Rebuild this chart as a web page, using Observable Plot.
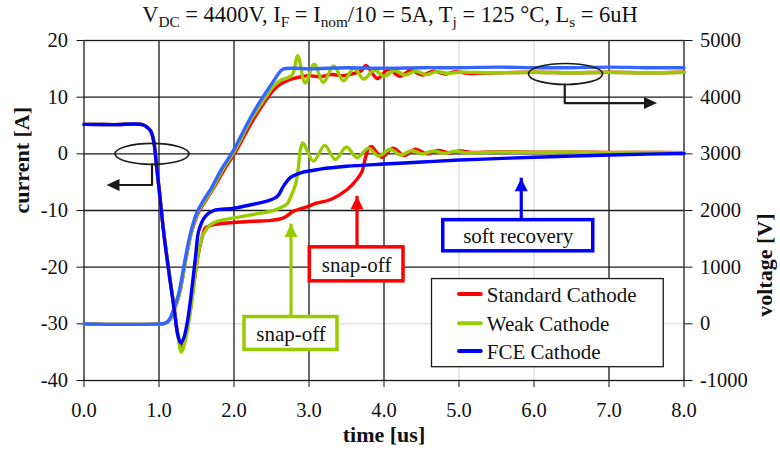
<!DOCTYPE html>
<html>
<head>
<meta charset="utf-8">
<script src="https://cdn.jsdelivr.net/npm/d3@7"></script>
<script src="https://cdn.jsdelivr.net/npm/@observablehq/plot@0.6"></script>
<style>
  body { margin: 0; background: #fff; }
  #title { width: 780px; height: 30px; line-height: 30px; text-align: center;
           font-family: "Liberation Serif", serif; font-size: 22.5px; color: #111; white-space: nowrap; }
  #title sub { font-size: 0.68em; vertical-align: -0.3em; line-height: 0; }
</style>
</head>
<body>
<div id="title">V<sub>DC</sub> = 4400V, I<sub>F</sub> = I<sub>nom</sub>/10 = 5A, T<sub>j</sub> = 125 °C, L<sub>s</sub> = 6uH</div>
<div id="chart"></div>
<script>
// ---------- axes / categories ----------
const timeTicks = [0, 1, 2, 3, 4, 5, 6, 7, 8];
const currentTicks = [-40, -30, -20, -10, 0, 10, 20];
const voltageTicks = [-1000, 0, 1000, 2000, 3000, 4000, 5000];
const gridTimeDark = [1, 2, 3, 4, 7];
const gridTimeLight = [5, 6];
const gridCurrentDark = [-20, -10, 0, 10];
const gridCurrentLight = [-30];
const seriesNames = ["Standard Cathode", "Weak Cathode", "FCE Cathode"];
const currentColors = ["#ff0000", "#99cc00", "#0000ff"];
const voltageColors = ["#ff0000", "#99cc00", "#3366ff"];

// ---------- current traces [A] ----------
const tI_std = [0, 0.4, 0.78, 0.85, 0.89, 0.93, 0.97, 1.0, 1.06, 1.13, 1.2, 1.25, 1.29, 1.34, 1.40, 1.46, 1.52, 1.58, 1.62, 1.73, 1.91, 2.26, 2.49, 2.66, 2.8, 2.98, 3.1, 3.29, 3.51, 3.64, 3.71, 3.75, 3.79, 3.83, 3.97, 4.12, 4.27, 4.42, 4.57, 4.72, 4.87, 5.02, 5.17, 5.5, 6.0, 6.5, 7.0, 7.5, 8.0];
const I_std  = [5.2, 5.15, 5.15, 4.6, 4.0, 2.2, -2.5, -6, -13.5, -20.6, -27, -31.8, -34, -32.5, -29, -23.5, -18, -14.5, -13.05, -12.5, -12.2, -11.9, -11.75, -11.3, -10.1, -9.3, -8.7, -8.05, -6.3, -4.5, -3.0, -0.8, 0.8, 1.3, -0.6, 1.0, -0.3, 0.8, 0.0, 0.6, 0.15, 0.5, 0.25, 0.35, 0.3, 0.3, 0.25, 0.25, 0.2];

const tI_weak = [0, 0.4, 0.78, 0.85, 0.89, 0.93, 0.97, 1.0, 1.06, 1.13, 1.2, 1.25, 1.3, 1.35, 1.40, 1.46, 1.52, 1.58, 1.69, 1.82, 2.0, 2.26, 2.53, 2.62, 2.71, 2.75, 2.82, 2.85, 2.89, 2.92, 3.06, 3.21, 3.35, 3.50, 3.64, 3.79, 3.93, 4.08, 4.22, 4.37, 4.51, 4.66, 4.80, 4.95, 5.09, 5.5, 6.0, 6.5, 7.0, 7.5, 8.0];
const I_weak  = [5.2, 5.15, 5.15, 4.6, 4.0, 2.2, -2.5, -6, -13.4, -20.5, -27, -32, -35, -33, -29.5, -23.6, -17.8, -14.5, -12.5, -11.75, -11.3, -10.7, -10.0, -9.5, -8.8, -7.8, -5.4, -3.3, 1.0, 1.9, -1.3, 1.5, -1.0, 1.2, -0.7, 1.0, -0.4, 0.8, -0.2, 0.6, 0.0, 0.5, 0.1, 0.45, 0.2, 0.3, 0.25, 0.3, 0.2, 0.25, 0.2];

const tI_fce = [0, 0.4, 0.78, 0.85, 0.89, 0.93, 0.97, 1.0, 1.06, 1.13, 1.2, 1.25, 1.29, 1.33, 1.38, 1.44, 1.49, 1.53, 1.62, 1.73, 2.0, 2.26, 2.44, 2.58, 2.66, 2.75, 2.89, 3.15, 3.5, 4.0, 4.5, 5.0, 5.5, 6.0, 6.5, 7.0, 7.5, 8.0];
const I_fce  = [5.2, 5.15, 5.15, 4.6, 4.0, 2.2, -2.5, -6, -13.6, -20.7, -27.2, -31.9, -33.4, -32.5, -29.5, -23.6, -17.8, -13.6, -11.0, -10.0, -9.6, -8.9, -8.35, -7.5, -5.7, -4.2, -3.35, -2.7, -2.2, -1.8, -1.45, -1.1, -0.85, -0.6, -0.4, -0.2, -0.05, 0.05];

// ---------- voltage traces [V] ----------
const tV_std = [0, 0.5, 1.0, 1.08, 1.14, 1.19, 1.27, 1.36, 1.43, 1.52, 1.61, 1.73, 1.86, 2.04, 2.22, 2.38, 2.53, 2.62, 2.71, 2.8, 2.9, 3.0, 3.15, 3.3, 3.45, 3.6, 3.7, 3.76, 3.91, 4.06, 4.21, 4.36, 4.51, 4.66, 4.81, 4.96, 5.11, 5.5, 6.0, 6.5, 7.0, 7.5, 8.0];
const V_std  = [0, -10, 0, 10, 60, 200, 520, 1150, 1600, 1950, 2150, 2400, 2700, 3080, 3520, 3860, 4130, 4230, 4290, 4330, 4360, 4380, 4360, 4400, 4380, 4420, 4470, 4560, 4330, 4490, 4370, 4470, 4390, 4460, 4410, 4450, 4420, 4430, 4440, 4430, 4440, 4430, 4440];

const tV_weak = [0, 0.5, 1.0, 1.08, 1.14, 1.19, 1.27, 1.36, 1.43, 1.51, 1.6, 1.72, 1.84, 2.02, 2.2, 2.37, 2.53, 2.62, 2.71, 2.78, 2.85, 2.95, 3.07, 3.19, 3.33, 3.46, 3.6, 3.73, 3.87, 4.0, 4.14, 4.28, 4.42, 4.56, 4.7, 4.85, 5.0, 5.5, 6.0, 6.5, 7.0, 7.5, 8.0];
const V_weak  = [0, -10, 0, 10, 60, 200, 520, 1150, 1600, 1950, 2150, 2400, 2700, 3080, 3540, 3900, 4200, 4300, 4340, 4400, 4730, 4250, 4580, 4260, 4550, 4290, 4510, 4320, 4480, 4370, 4470, 4390, 4460, 4400, 4450, 4420, 4440, 4430, 4440, 4430, 4440, 4430, 4440];

const tV_fce = [0, 0.5, 1.0, 1.08, 1.13, 1.18, 1.26, 1.35, 1.42, 1.5, 1.58, 1.7, 1.82, 2.0, 2.18, 2.35, 2.53, 2.62, 2.66, 2.8, 3.0, 3.5, 4.0, 4.5, 5.0, 5.5, 6.0, 6.5, 7.0, 7.5, 8.0];
const V_fce  = [0, -10, 0, 10, 60, 200, 520, 1150, 1600, 1950, 2150, 2400, 2700, 3080, 3540, 3930, 4290, 4460, 4500, 4510, 4500, 4520, 4510, 4520, 4520, 4530, 4520, 4520, 4530, 4520, 4520];

// ---------- annotations (data coordinates) ----------
const calloutLabels = ["snap-off", "snap-off", "soft recovery"];
const calloutColors = ["#99cc00", "#ff0000", "#0000ff"];
const calloutBoxX1 = [2.14, 3.01, 4.79];
const calloutBoxX2 = [3.38, 4.26, 6.79];
const calloutBoxY1 = [-28.8, -16.5, -11.7];
const calloutBoxY2 = [-34.6, -22.5, -17.2];
const calloutArrowX = [2.76, 3.64, 5.83];
const calloutArrowTip = [-12.4, -7.5, -4.3];

const ovalCenterX = [0.907, 6.42];
const ovalCenterY = [0, 14.1];
const elbowLeftX = [0.907, 0.907, 0.46];
const elbowLeftY = [-1.85, -5.5, -5.5];
const elbowRightX = [6.41, 6.41, 7.48];
const elbowRightY = [12.2, 8.95, 8.95];

const legendBox = {x1: 4.64, x2: 7.73, y1: -22.1, y2: -37.65};
const legendRowY = [-24.75, -29.9, -34.8];
const legendSwatchX = [5.0, 5.29];
const legendTextX = 5.37;

// ---------- helpers ----------
const vToY = v => v / 100 - 30;   // secondary (voltage) axis mapping: 0 V at -30 A, 5000 V at 20 A
const yToV = y => Math.round((y + 30) * 100);
const zipI = (t, v, s) => t.map((d, i) => ({t: d, y: v[i], s}));
const zipV = (t, v, s) => t.map((d, i) => ({t: d, y: vToY(v[i]), s}));

const triUp = {draw(ctx) { ctx.moveTo(0, 0); ctx.lineTo(-6.5, 13); ctx.lineTo(6.5, 13); ctx.closePath(); }};
const triLeft = {draw(ctx) { ctx.moveTo(0, 0); ctx.lineTo(13, -6); ctx.lineTo(13, 6); ctx.closePath(); }};
const triRight = {draw(ctx) { ctx.moveTo(0, 0); ctx.lineTo(-13, -6); ctx.lineTo(-13, 6); ctx.closePath(); }};
const oval = {draw(ctx) {
  const rx = 37, ry = 10.5, k = 0.5523;
  ctx.moveTo(rx, 0);
  ctx.bezierCurveTo(rx, ry * k, rx * k, ry, 0, ry);
  ctx.bezierCurveTo(-rx * k, ry, -rx, ry * k, -rx, 0);
  ctx.bezierCurveTo(-rx, -ry * k, -rx * k, -ry, 0, -ry);
  ctx.bezierCurveTo(rx * k, -ry, rx, -ry * k, rx, 0);
  ctx.closePath();
}};

const voltageSeries = [zipV(tV_std, V_std, 0), zipV(tV_weak, V_weak, 1), zipV(tV_fce, V_fce, 2)];
const currentSeries = [zipI(tI_std, I_std, 0), zipI(tI_weak, I_weak, 1), zipI(tI_fce, I_fce, 2)];

const callouts = calloutLabels.map((label, i) => ({
  label, color: calloutColors[i],
  x1: calloutBoxX1[i], x2: calloutBoxX2[i], y1: calloutBoxY1[i], y2: calloutBoxY2[i],
  ax: calloutArrowX[i], tip: calloutArrowTip[i]
}));
const legendRows = seriesNames.map((name, i) => ({name, color: currentColors[i], y: legendRowY[i]}));

const font = "'Liberation Serif', 'Times New Roman', serif";
const marks = [
  Plot.ruleX(gridTimeLight, {stroke: "#d4d4d4", strokeWidth: 1}),
  Plot.ruleY(gridCurrentLight, {stroke: "#d4d4d4", strokeWidth: 1}),
  Plot.ruleX(gridTimeDark, {stroke: "#1a1a1a", strokeWidth: 1.3}),
  Plot.ruleY(gridCurrentDark, {stroke: "#1a1a1a", strokeWidth: 1.3}),
  Plot.frame({stroke: "#1a1a1a", strokeWidth: 1.3}),
  Plot.axisX({ticks: timeTicks, tickFormat: d => d.toFixed(1), tickSize: 7, tickPadding: 15, label: null, fontSize: 20.5, fontFamily: font}),
  Plot.axisY({anchor: "left", ticks: currentTicks, tickFormat: d => String(d), tickSize: 7, tickPadding: 9, label: null, fontSize: 20.5, fontFamily: font}),
  Plot.axisY({anchor: "right", ticks: voltageTicks.map(vToY), tickFormat: d => String(yToV(d)), tickSize: 8, tickPadding: 8, label: null, fontSize: 20.5, fontFamily: font}),
  Plot.text(["current [A]"], {frameAnchor: "left", dx: -62, dy: 3, rotate: -90, fontWeight: "bold", fontSize: 22, fontFamily: font}),
  Plot.text(["voltage [V]"], {frameAnchor: "right", dx: 81, dy: 3, rotate: -90, fontWeight: "bold", fontSize: 22, fontFamily: font}),
  Plot.text(["time [us]"], {frameAnchor: "bottom", dy: 61, fontWeight: "bold", fontSize: 22, fontFamily: font})
];
for (const s of [0, 1, 2]) {
  marks.push(Plot.line(voltageSeries[s], {x: "t", y: "y", stroke: voltageColors[s], strokeWidth: 3.4, curve: "catmull-rom", strokeLinejoin: "round"}));
}
for (const s of [0, 1, 2]) {
  marks.push(Plot.line(currentSeries[s], {x: "t", y: "y", stroke: currentColors[s], strokeWidth: 3.4, curve: "catmull-rom", strokeLinejoin: "round"}));
}
// oval + elbow arrows
marks.push(
  Plot.dot(ovalCenterX.map((x, i) => ({x, y: ovalCenterY[i]})), {x: "x", y: "y", symbol: oval, r: 5, stroke: "#1a1a1a", strokeWidth: 1.6, fill: "none"}),
  Plot.line(elbowLeftX.map((x, i) => ({x, y: elbowLeftY[i]})), {x: "x", y: "y", stroke: "#1a1a1a", strokeWidth: 2.2}),
  Plot.line(elbowRightX.map((x, i) => ({x, y: elbowRightY[i]})), {x: "x", y: "y", stroke: "#1a1a1a", strokeWidth: 2.2}),
  Plot.dot([{x: elbowLeftX[2], y: elbowLeftY[2]}], {x: "x", y: "y", symbol: triLeft, r: 5, fill: "#1a1a1a", stroke: "none", dx: -12}),
  Plot.dot([{x: elbowRightX[2], y: elbowRightY[2]}], {x: "x", y: "y", symbol: triRight, r: 5, fill: "#1a1a1a", stroke: "none", dx: 12})
);
// callouts
marks.push(
  Plot.ruleX(callouts, {x: "ax", y1: "y1", y2: "tip", stroke: "color", strokeWidth: 3.2}),
  Plot.dot(callouts, {x: "ax", y: "tip", symbol: triUp, r: 5, fill: "color", stroke: "none"}),
  Plot.rect(callouts, {x1: "x1", x2: "x2", y1: "y1", y2: "y2", fill: "white", stroke: "color", strokeWidth: 3.5}),
  Plot.text(callouts, {x: d => (d.x1 + d.x2) / 2, y: d => (d.y1 + d.y2) / 2, text: "label", fontSize: 21, fill: "#111", dy: 1, fontFamily: font})
);
// legend
marks.push(
  Plot.rect([legendBox], {x1: "x1", x2: "x2", y1: "y1", y2: "y2", fill: "white", stroke: "#1a1a1a", strokeWidth: 1.3}),
  Plot.link(legendRows, {x1: legendSwatchX[0], x2: legendSwatchX[1], y1: "y", y2: "y", stroke: "color", strokeWidth: 4, strokeLinecap: "round"}),
  Plot.text(legendRows, {x: legendTextX, y: "y", text: "name", textAnchor: "start", fontSize: 21, fill: "#111", dy: 1, fontFamily: font})
);

const chart = Plot.plot({
  width: 780,
  height: 427,
  marginTop: 10,
  marginBottom: 77,
  marginLeft: 83.5,
  marginRight: 96.5,
  x: {domain: [0, 8]},
  y: {domain: [-40, 20]},
  style: {fontFamily: font, fontSize: "20px", color: "#111", background: "white"},
  marks
});
document.getElementById("chart").appendChild(chart);
</script>
</body>
</html>
